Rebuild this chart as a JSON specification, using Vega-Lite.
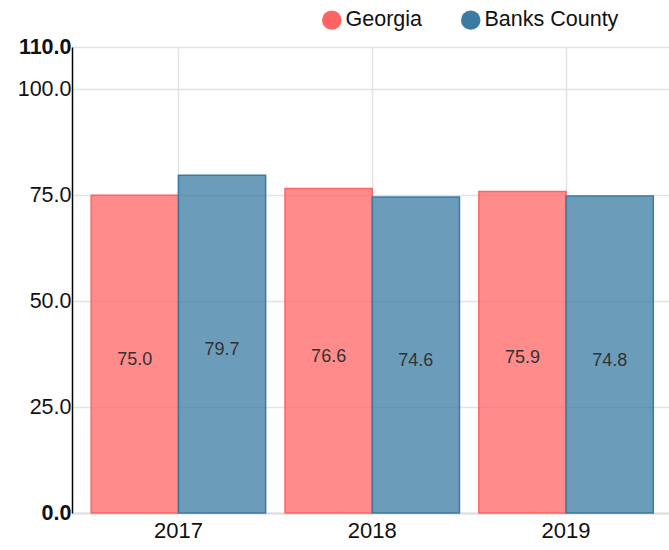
{
  "$schema": "https://vega.github.io/schema/vega-lite/v6.json",
  "autosize": {"type": "none"},
  "padding": {"left": 72, "top": 47, "right": 0, "bottom": 37},
  "width": 597,
  "height": 466,
  "background": "white",
  "config": {
    "font": "Liberation Sans",
    "view": {"stroke": null}
  },
  "data": {
    "values": [
      {"year": "2017", "series": "Georgia", "value": 75.0},
      {"year": "2017", "series": "Banks County", "value": 79.7},
      {"year": "2018", "series": "Georgia", "value": 76.6},
      {"year": "2018", "series": "Banks County", "value": 74.6},
      {"year": "2019", "series": "Georgia", "value": 75.9},
      {"year": "2019", "series": "Banks County", "value": 74.8}
    ]
  },
  "transform": [{"calculate": "datum.value / 2", "as": "mid"}],
  "encoding": {
    "x": {
      "field": "year",
      "type": "nominal",
      "scale": {"paddingInner": 0.1, "paddingOuter": 0.09, "align": 0.55},
      "axis": {
        "title": null,
        "labelAngle": 0,
        "labelFontSize": 22,
        "labelColor": "#111",
        "labelPadding": 7,
        "ticks": false,
        "grid": true,
        "bandPosition": 0.5,
        "gridColor": "#e3e3e3",
        "gridWidth": 1.5,
        "domainColor": "#dddddd",
        "domainWidth": 2
      }
    },
    "xOffset": {"field": "series", "type": "nominal", "sort": ["Georgia", "Banks County"], "scale": {"paddingInner": 0, "paddingOuter": 0}}
  },
  "layer": [
    {
      "mark": {"type": "bar", "fillOpacity": 0.75, "strokeWidth": 1.5},
      "encoding": {
        "y": {
          "field": "value",
          "type": "quantitative",
          "scale": {"domain": [0, 110], "nice": false},
          "axis": {
            "title": null,
            "values": [0, 25, 50, 75, 100, 110],
            "format": ".1f",
            "labelFontSize": 21.5,
            "labelColor": "#111",
            "labelFontWeight": {"condition": {"test": "datum.value === 0 || datum.value === 110", "value": "bold"}, "value": "normal"},
            "labelPadding": 1,
            "ticks": false,
            "grid": true,
            "gridColor": "#e3e3e3",
            "gridWidth": 1.5,
            "domainColor": "#000000",
            "domainWidth": 1.5
          }
        },
        "color": {
          "field": "series",
          "type": "nominal",
          "sort": ["Georgia", "Banks County"],
          "scale": {"domain": ["Georgia", "Banks County"], "range": ["#ff6464", "#3a7ba3"]},
          "legend": {
            "title": null,
            "orient": "none",
            "direction": "horizontal",
            "legendX": 249,
            "legendY": -38,
            "symbolType": "circle",
            "symbolSize": 380,
            "symbolOpacity": 1,
            "symbolStrokeWidth": 0,
            "labelFontSize": 21.5,
            "labelColor": "#111",
            "labelOffset": 3,
            "columnPadding": 38
          }
        },
        "stroke": {
          "field": "series",
          "type": "nominal",
          "scale": {"domain": ["Georgia", "Banks County"], "range": ["#ff6464", "#3a7ba3"]},
          "legend": null
        }
      }
    },
    {
      "mark": {"type": "text", "baseline": "middle", "dy": 6, "fontSize": 18, "color": "#333333"},
      "encoding": {
        "y": {"field": "mid", "type": "quantitative"},
        "text": {"field": "value", "type": "quantitative", "format": ".1f"}
      }
    }
  ]
}
